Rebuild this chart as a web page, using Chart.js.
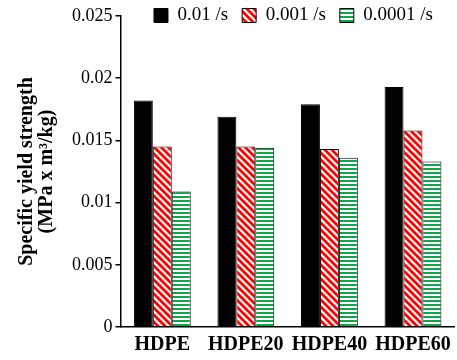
<!DOCTYPE html>
<html>
<head>
<meta charset="utf-8">
<script src="https://cdn.jsdelivr.net/npm/chart.js@4/dist/chart.umd.min.js"></script>
<style>
html,body{margin:0;padding:0;background:#fff;}
#wrap{width:457px;height:360px;position:relative;}
</style>
</head>
<body>
<div id="wrap"><canvas id="c" width="457" height="360"></canvas></div>
<script>
const categories = ['HDPE', 'HDPE20', 'HDPE40', 'HDPE60'];
const seriesNames = ['0.01 /s', '0.001 /s', '0.0001 /s'];
const rate001 = [0.0182, 0.0169, 0.0179, 0.0193];
const rate0001 = [0.0145, 0.0145, 0.0143, 0.0158];
const rate00001 = [0.0109, 0.0144, 0.0136, 0.0133];
const yTickLabels = ['0', '0.005', '0.01', '0.015', '0.02', '0.025'];
const yMax = 0.025;
const yStep = 0.005;

function diagPattern(color) {
  const s = 7;
  const c = document.createElement('canvas');
  c.width = s; c.height = s;
  const g = c.getContext('2d');
  g.fillStyle = '#fff'; g.fillRect(0, 0, s, s);
  g.strokeStyle = color; g.lineWidth = 2.8;
  g.beginPath();
  for (let k = -1; k <= 1; k++) {
    g.moveTo(k * s - 1, -1); g.lineTo(k * s + s + 1, s + 1);
  }
  g.stroke();
  return g.createPattern(c, 'repeat');
}
function horizPattern(color) {
  const c = document.createElement('canvas');
  c.width = 4; c.height = 4;
  const g = c.getContext('2d');
  g.fillStyle = '#fff'; g.fillRect(0, 0, 4, 4);
  g.fillStyle = color; g.fillRect(0, 0, 4, 2);
  return g.createPattern(c, 'repeat');
}

// keep the legend (which sits partly beside the plot top) from being clipped
const legendFit = {
  id: 'legendFit',
  afterLayout(chart) {
    const lg = chart.legend;
    if (!lg) return;
    lg.right = 447;
    lg.bottom = lg.top + 40;
  }
};

const ctx = document.getElementById('c').getContext('2d');
new Chart(ctx, {
  type: 'bar',
  data: {
    labels: categories,
    datasets: [
      { label: seriesNames[0], data: rate001, backgroundColor: '#000', borderColor: '#000', borderWidth: 1 },
      { label: seriesNames[1], data: rate0001, backgroundColor: diagPattern('#ff0000'), borderColor: '#000', borderWidth: 1 },
      { label: seriesNames[2], data: rate00001, backgroundColor: horizPattern('#0fa548'), borderColor: '#000', borderWidth: 1 }
    ]
  },
  plugins: [legendFit],
  options: {
    responsive: false,
    animation: false,
    devicePixelRatio: 1,
    layout: { padding: { top: -8, right: 2, bottom: -3, left: 17 } },
    datasets: { bar: { barPercentage: 1.0, categoryPercentage: 0.68 } },
    plugins: {
      tooltip: { enabled: false },
      legend: {
        position: 'top',
        align: 'end',
        maxHeight: 24,
        labels: {
          boxWidth: 14, boxHeight: 14, padding: 14,
          color: '#000',
          font: { family: 'Liberation Serif', size: 19 }
        }
      }
    },
    scales: {
      x: {
        grid: { display: false, drawTicks: false },
        border: { display: true, color: '#000', width: 1.5 },
        ticks: { color: '#000', padding: 6, font: { family: 'Liberation Serif', size: 20, weight: 'bold' }, maxRotation: 0 }
      },
      y: {
        min: 0, max: yMax,
        grid: { display: true, drawOnChartArea: false, drawTicks: true, tickLength: 5, color: '#000', lineWidth: 1.5 },
        border: { display: true, color: '#000', width: 1.5 },
        ticks: {
          stepSize: yStep, color: '#000', padding: 3,
          font: { family: 'Liberation Serif', size: 18 },
          callback: (v, i) => yTickLabels[i]
        },
        title: {
          display: true,
          text: ['Specific yield strength', '(MPa x m³/kg)'],
          color: '#000',
          font: { family: 'Liberation Serif', size: 20, weight: 'bold', lineHeight: 1.0 },
          padding: { top: 0, bottom: 12 }
        }
      }
    }
  }
});
</script>
</body>
</html>
